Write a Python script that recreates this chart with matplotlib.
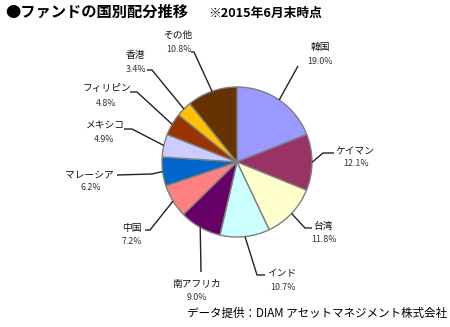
import numpy as np
import matplotlib
matplotlib.use("Agg")
import matplotlib.pyplot as plt

plt.rcParams['font.family'] = ['Noto Sans CJK JP', 'DejaVu Sans']

# 国別配分（%）、12時の位置から時計回り
countries = ["韓国", "ケイマン", "台湾", "インド", "南アフリカ", "中国",
             "マレーシア", "メキシコ", "フィリピン", "香港", "その他"]
shares = [19.0, 12.1, 11.8, 10.7, 9.0, 7.2, 6.2, 4.9, 4.8, 3.4, 10.8]
colors = ["#9999FF", "#993366", "#FFFFCC", "#CCFFFF", "#660066", "#FF8080",
          "#0066CC", "#CCCCFF", "#993300", "#FFC000", "#663300"]

# ラベル配置（ピクセル座標, 上が0）: 線の折れ点, 線の端, 国名の中心, %の中心
label_layout = [
    ((298, 66), (298, 66), (320, 47), (320, 62)),
    ((323, 153), (334, 153), (355, 152), (356, 164)),
    ((305, 228), (312, 228), (323, 226), (324, 239)),
    ((257, 275), (265, 275), (282, 273), (283, 287)),
    ((201, 272), (201, 272), (197, 284), (197, 298)),
    ((150, 230), (145, 230), (132, 228), (132, 241)),
    ((152, 174), (117, 175), (89, 175), (91, 188)),
    ((132, 129), (124, 129), (105, 126), (104, 139)),
    ((137, 92), (130, 92), (107, 88), (106, 103)),
    ((152, 70), (147, 70), (135, 55), (136, 69)),
    ((194, 52), (191, 52), (178, 35), (179, 50)),
]

W, H = 450, 327
center_px = (237, 162)
radius = 75

fig = plt.figure(figsize=(W / 100, H / 100), dpi=100)
ax = fig.add_axes([0, 0, 1, 1])

def py(y):
    return H - y

wedges, _ = ax.pie(shares, colors=colors, startangle=90, counterclock=False,
                   center=(center_px[0], py(center_px[1])), radius=radius,
                   wedgeprops=dict(edgecolor="#7f7f7f", linewidth=1.0))
ax.set_xlim(0, W)
ax.set_ylim(0, H)
ax.axis("off")

for w, name, val, (elbow, end, name_xy, pct_xy) in zip(wedges, countries, shares, label_layout):
    mid = np.deg2rad((w.theta1 + w.theta2) / 2)
    rx = w.center[0] + radius * np.cos(mid)
    ry = w.center[1] + radius * np.sin(mid)
    ax.plot([rx, elbow[0], end[0]], [ry, py(elbow[1]), py(end[1])],
            color="#222222", linewidth=1.0, solid_capstyle="butt")
    ax.text(name_xy[0], py(name_xy[1]), name, fontsize=7, ha="center",
            va="center", color="#111111")
    ax.text(pct_xy[0], py(pct_xy[1]), f"{val:.1f}%", fontsize=6.4,
            ha="center", va="center", color="#333333")

fig.text(5 / W, 1 - 12 / H, "●ファンドの国別配分推移", fontsize=11,
         fontweight="bold", ha="left", va="center")
fig.text(208 / W, 1 - 13 / H, "※2015年6月末時点", fontsize=9.2,
         fontweight="bold", ha="left", va="center")
fig.text(447 / W, 1 - 313 / H, "データ提供：DIAM アセットマネジメント株式会社",
         fontsize=8.3, ha="right", va="center")

fig.savefig("out.png", dpi=100)
